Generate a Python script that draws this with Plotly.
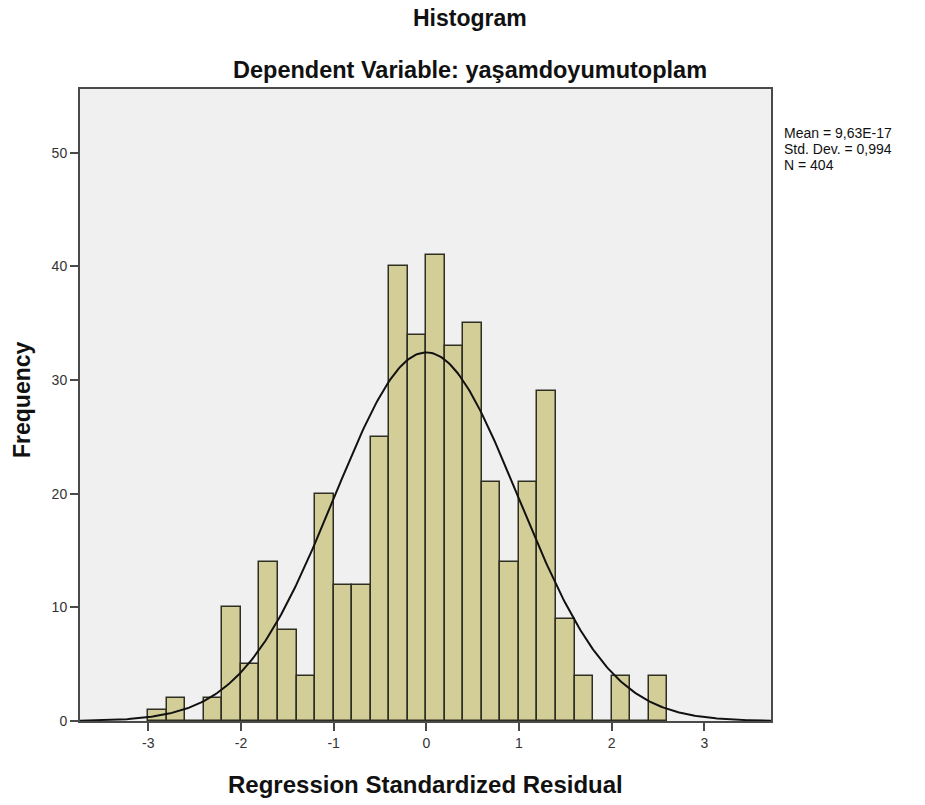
import numpy as np
import plotly.graph_objects as go

# Histogram bins (left edges) and frequencies
bin_left = [-3.0, -2.8, -2.6, -2.4, -2.2, -2.0, -1.8, -1.6, -1.4, -1.2,
            -1.0, -0.8, -0.6, -0.4, -0.2, 0.0, 0.2, 0.4, 0.6, 0.8,
            1.0, 1.2, 1.4, 1.6, 1.8, 2.0, 2.2, 2.4]
freq = [1, 2, 0, 2, 10, 5, 14, 8, 4, 20,
        12, 12, 25, 40, 34, 41, 33, 35, 21, 14,
        21, 29, 9, 4, 0, 4, 0, 4]
bin_width = 0.2

# Reported statistics
mean_val = 9.63e-17
std_val = 0.994
n_val = 404
stats_lines = ["Mean = 9,63E-17", "Std. Dev. = 0,994", "N = 404"]

x_ticks = [-3, -2, -1, 0, 1, 2, 3]
y_ticks = [0, 10, 20, 30, 40, 50]

FONT = "Liberation Sans, Arial, sans-serif"

centers = [b + bin_width / 2 for b in bin_left]

fig = go.Figure()
fig.add_trace(go.Bar(
    x=centers, y=freq, width=bin_width,
    marker=dict(color="#d3cd98", line=dict(color="#2e2e22", width=1.5)),
    showlegend=False, hoverinfo="x+y",
))

# Fitted normal curve (as drawn by SPSS from mean, sd, N)
xr = (-3.737, 3.72)
xs = np.linspace(xr[0], xr[1], 400)
ys = n_val * bin_width / (std_val * np.sqrt(2 * np.pi)) * np.exp(-0.5 * ((xs - mean_val) / std_val) ** 2)
fig.add_trace(go.Scatter(x=xs, y=ys, mode="lines",
                         line=dict(color="#111111", width=2),
                         showlegend=False, hoverinfo="skip"))

L, T, PW, PH = 80, 89, 691, 632
W, H = 925, 805
fig.update_layout(
    width=W, height=H,
    margin=dict(l=L, r=W - L - PW, t=T, b=H - T - PH, autoexpand=False),
    paper_bgcolor="white", plot_bgcolor="#f0f0f0",
    font=dict(family=FONT, color="#222222", size=14),
    bargap=0,
)
axis_common = dict(
    showgrid=False, zeroline=False,
    showline=True, linecolor="#4a4a4a", linewidth=2, mirror=True,
    ticks="outside", ticklen=8, tickcolor="#4a4a4a", tickwidth=2,
    tickfont=dict(size=14, color="#333333"), automargin=False,
)
fig.update_xaxes(range=list(xr), tickvals=x_ticks, ticktext=[str(v) for v in x_ticks], **axis_common)
fig.update_yaxes(range=[0, 55.6], tickvals=y_ticks, ticktext=[str(v) for v in y_ticks], **axis_common)

title_x = (470 - L) / PW
fig.add_annotation(xref="paper", yref="paper", x=title_x, y=1, yshift=71,
                   text="<b>Histogram</b>", showarrow=False,
                   font=dict(size=23, color="#111111"), xanchor="center", yanchor="middle")
fig.add_annotation(xref="paper", yref="paper", x=title_x, y=1, yshift=19,
                   text="<b>Dependent Variable: yaşamdoyumutoplam</b>", showarrow=False,
                   font=dict(size=23.5, color="#111111"), xanchor="center", yanchor="middle")
fig.add_annotation(xref="paper", yref="paper", x=0.5, y=0, yshift=-63,
                   text="<b>Regression Standardized Residual</b>", showarrow=False,
                   font=dict(size=24, color="#111111"), xanchor="center", yanchor="middle")
fig.add_annotation(xref="paper", yref="paper", x=0, y=(T + PH - 400) / PH, xshift=-58,
                   text="<b>Frequency</b>", showarrow=False, textangle=-90,
                   font=dict(size=23, color="#111111"), xanchor="center", yanchor="middle")
for i, line in enumerate(stats_lines):
    fig.add_annotation(xref="paper", yref="paper", x=1, y=1, xshift=11, yshift=-34 - 16 * i,
                       text=line, showarrow=False, align="left", xanchor="left", yanchor="top",
                       font=dict(size=14, color="#111111"))

fig.write_html("out.html", config={"displayModeBar": False},
               post_script="document.body.style.margin='0';")
